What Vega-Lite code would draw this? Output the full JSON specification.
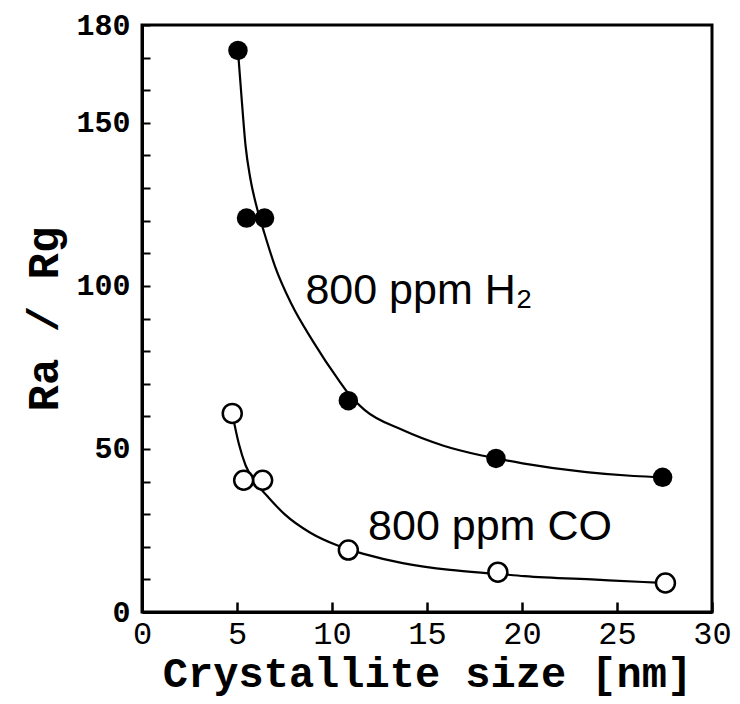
{
  "$schema": "https://vega.github.io/schema/vega-lite/v6.json",
  "width": 570,
  "height": 587,
  "autosize": "none",
  "padding": {"left": 142, "top": 25, "right": 28, "bottom": 92},
  "background": "white",
  "config": {
    "view": {"stroke": "black", "strokeWidth": 3},
    "axis": {"grid": false, "domainColor": "black", "domainWidth": 3, "tickColor": "black", "labelColor": "black", "titleColor": "black"}
  },
  "datasets": {
    "points": [
      {"size_nm": 5.05, "ratio": 172.2, "gas": "H2"},
      {"size_nm": 5.5, "ratio": 120.8, "gas": "H2"},
      {"size_nm": 6.45, "ratio": 120.8, "gas": "H2"},
      {"size_nm": 10.86, "ratio": 64.8, "gas": "H2"},
      {"size_nm": 18.63, "ratio": 47.1, "gas": "H2"},
      {"size_nm": 27.4, "ratio": 41.3, "gas": "H2"},
      {"size_nm": 4.75, "ratio": 60.9, "gas": "CO"},
      {"size_nm": 5.35, "ratio": 40.4, "gas": "CO"},
      {"size_nm": 6.35, "ratio": 40.4, "gas": "CO"},
      {"size_nm": 10.86, "ratio": 19.0, "gas": "CO"},
      {"size_nm": 18.73, "ratio": 12.2, "gas": "CO"},
      {"size_nm": 27.55, "ratio": 8.9, "gas": "CO"}
    ],
    "curves": [
      {"size_nm": 5.05, "ratio": 172.2, "gas": "H2"},
      {"size_nm": 5.25, "ratio": 157.0, "gas": "H2"},
      {"size_nm": 5.45, "ratio": 143.0, "gas": "H2"},
      {"size_nm": 5.7, "ratio": 133.0, "gas": "H2"},
      {"size_nm": 6.0, "ratio": 125.0, "gas": "H2"},
      {"size_nm": 6.45, "ratio": 116.0, "gas": "H2"},
      {"size_nm": 7.0, "ratio": 106.0, "gas": "H2"},
      {"size_nm": 7.86, "ratio": 94.5, "gas": "H2"},
      {"size_nm": 9.0, "ratio": 83.0, "gas": "H2"},
      {"size_nm": 10.36, "ratio": 71.0, "gas": "H2"},
      {"size_nm": 10.86, "ratio": 67.0, "gas": "H2"},
      {"size_nm": 11.71, "ratio": 62.0, "gas": "H2"},
      {"size_nm": 13.72, "ratio": 55.8, "gas": "H2"},
      {"size_nm": 15.87, "ratio": 51.0, "gas": "H2"},
      {"size_nm": 17.88, "ratio": 48.0, "gas": "H2"},
      {"size_nm": 18.63, "ratio": 47.1, "gas": "H2"},
      {"size_nm": 20.03, "ratio": 45.6, "gas": "H2"},
      {"size_nm": 23.39, "ratio": 42.9, "gas": "H2"},
      {"size_nm": 25.89, "ratio": 41.7, "gas": "H2"},
      {"size_nm": 27.4, "ratio": 41.3, "gas": "H2"},
      {"size_nm": 4.75, "ratio": 60.9, "gas": "CO"},
      {"size_nm": 5.1, "ratio": 51.5, "gas": "CO"},
      {"size_nm": 5.45, "ratio": 45.0, "gas": "CO"},
      {"size_nm": 6.0, "ratio": 39.5, "gas": "CO"},
      {"size_nm": 6.6, "ratio": 35.5, "gas": "CO"},
      {"size_nm": 7.5, "ratio": 30.0, "gas": "CO"},
      {"size_nm": 8.86, "ratio": 24.3, "gas": "CO"},
      {"size_nm": 10.2, "ratio": 20.6, "gas": "CO"},
      {"size_nm": 10.86, "ratio": 19.2, "gas": "CO"},
      {"size_nm": 11.61, "ratio": 17.9, "gas": "CO"},
      {"size_nm": 13.72, "ratio": 15.0, "gas": "CO"},
      {"size_nm": 16.22, "ratio": 12.9, "gas": "CO"},
      {"size_nm": 18.73, "ratio": 11.7, "gas": "CO"},
      {"size_nm": 20.13, "ratio": 11.0, "gas": "CO"},
      {"size_nm": 23.89, "ratio": 9.9, "gas": "CO"},
      {"size_nm": 26.39, "ratio": 9.2, "gas": "CO"},
      {"size_nm": 27.55, "ratio": 8.9, "gas": "CO"}
    ],
    "labels": [
      {"size_nm": 8.6, "ratio": 94.5, "text": "800 ppm H₂"},
      {"size_nm": 11.9, "ratio": 22.0, "text": "800 ppm CO"}
    ]
  },
  "layer": [
    {
      "data": {"name": "curves"},
      "mark": {"type": "line", "interpolate": "monotone", "color": "black", "strokeWidth": 2.2},
      "encoding": {
        "x": {
          "field": "size_nm", "type": "quantitative",
          "scale": {"domain": [0, 30], "nice": false, "zero": false},
          "axis": {
            "title": "Crystallite size [nm]",
            "values": [0, 5, 10, 15, 20, 25, 30],
            "tickCount": 7,
            "tickSize": -10, "tickWidth": 2.5,
            "labelFont": "Liberation Mono", "labelFontSize": 32, "labelPadding": 16, "labelFlush": false,
            "titleFont": "Liberation Mono", "titleFontWeight": "bold", "titleFontSize": 42, "titlePadding": 4
          }
        },
        "y": {
          "field": "ratio", "type": "quantitative",
          "scale": {"domain": [0, 180], "nice": false},
          "axis": {
            "title": "Ra / Rg",
            "values": [0, 10, 20, 30, 40, 50, 60, 70, 80, 90, 100, 110, 120, 130, 140, 150, 160, 170, 180],
            "tickCount": 19,
            "labelExpr": "datum.value % 50 == 0 || datum.value == 180 ? datum.label : ''",
            "labelOverlap": false,
            "tickSize": -8, "tickWidth": 2,
            "labelFont": "Liberation Mono", "labelFontWeight": "bold", "labelFontSize": 30, "labelPadding": 20, "labelFlush": false,
            "titleFont": "Liberation Mono", "titleFontWeight": "bold", "titleFontSize": 44, "titlePadding": 9
          }
        },
        "detail": {"field": "gas"}
      }
    },
    {
      "data": {"name": "points"},
      "transform": [{"filter": "datum.gas == 'H2'"}],
      "mark": {"type": "circle", "size": 380, "color": "black", "opacity": 1},
      "encoding": {
        "x": {"field": "size_nm", "type": "quantitative"},
        "y": {"field": "ratio", "type": "quantitative"}
      }
    },
    {
      "data": {"name": "points"},
      "transform": [{"filter": "datum.gas == 'CO'"}],
      "mark": {"type": "point", "shape": "circle", "size": 360, "fill": "white", "filled": true, "stroke": "black", "strokeWidth": 2.5, "opacity": 1},
      "encoding": {
        "x": {"field": "size_nm", "type": "quantitative"},
        "y": {"field": "ratio", "type": "quantitative"}
      }
    },
    {
      "data": {"name": "labels"},
      "mark": {"type": "text", "align": "left", "baseline": "alphabetic", "font": "Liberation Sans", "fontSize": 43, "color": "black"},
      "encoding": {
        "x": {"field": "size_nm", "type": "quantitative"},
        "y": {"field": "ratio", "type": "quantitative"},
        "text": {"field": "text"}
      }
    }
  ]
}
